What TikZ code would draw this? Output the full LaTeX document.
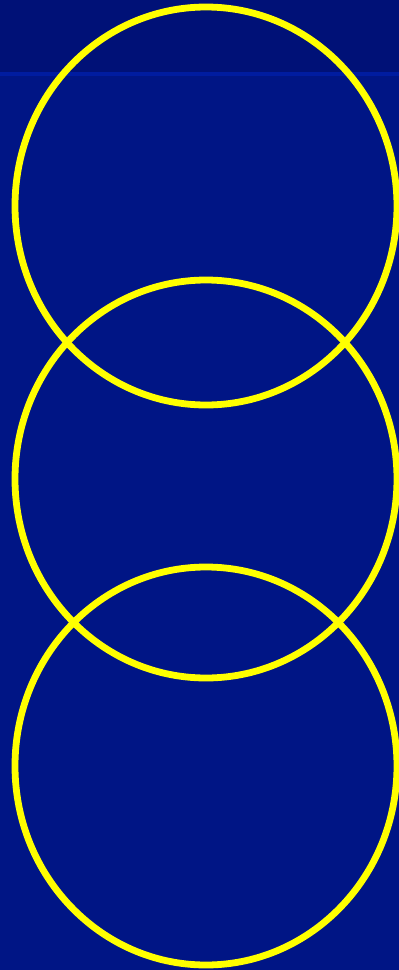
\documentclass[tikz,border=0pt]{standalone}
\usepackage{tikz}
\usetikzlibrary{backgrounds}
\definecolor{SlideBlue}{RGB}{0,21,133}
\definecolor{BandBlue}{RGB}{0,17,119}
\definecolor{LineBlue}{RGB}{0,28,160}
\definecolor{RingYellow}{RGB}{255,255,0}

\begin{document}
\begin{tikzpicture}[x=1pt, y=-1pt, ring/.style={line width=6.8pt, RingYellow}]
		\useasboundingbox (0,0) rectangle (399,970);
		% background
		\fill[SlideBlue] (0,0) rectangle (399,970);
		\fill[BandBlue] (0,0) rectangle (399,72);
		\fill[LineBlue] (0,72) rectangle (399,76);
		
		% three rings
		\draw[ring] (206,206) ellipse (191 and 199);
		\draw[ring] (206,479) ellipse (191 and 199);
		\draw[ring] (206,766) ellipse (191 and 199);
	\end{tikzpicture}
\end{document}
